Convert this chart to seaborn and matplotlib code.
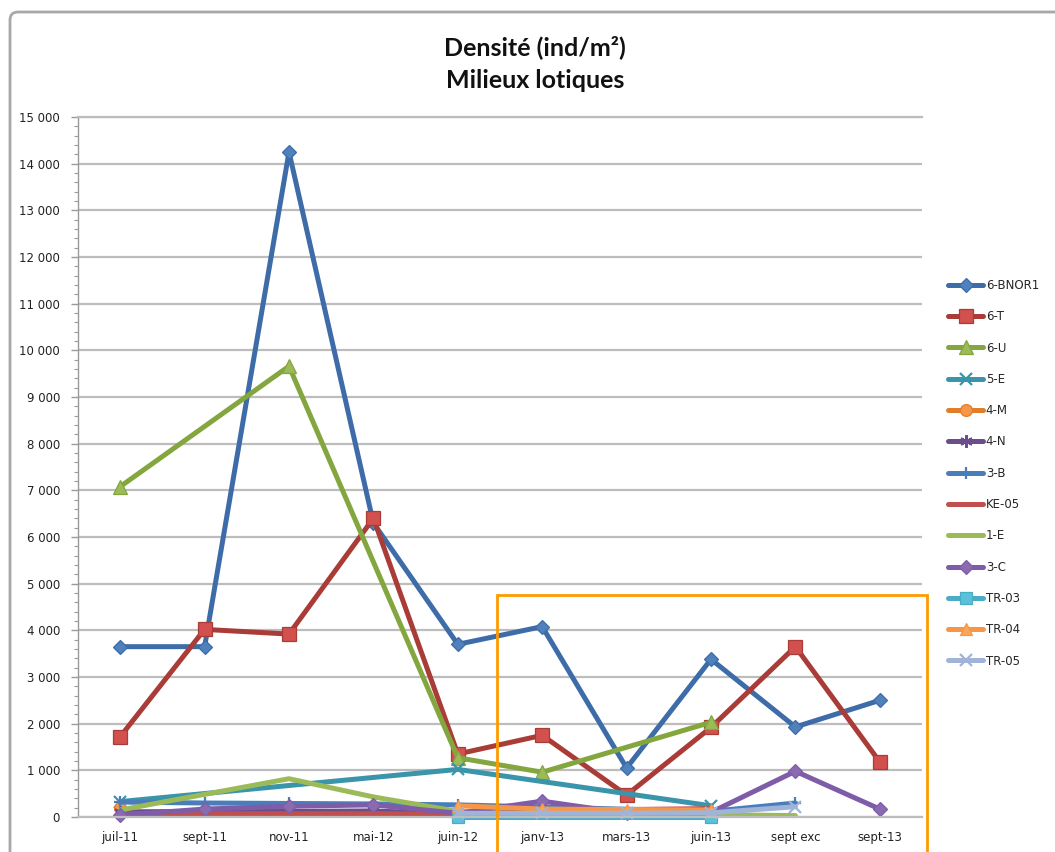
import numpy as np
import pandas as pd
import matplotlib
matplotlib.use("Agg")
import matplotlib.pyplot as plt
from matplotlib.ticker import FuncFormatter, MultipleLocator, FixedLocator
from matplotlib.patches import Rectangle, FancyBboxPatch
import seaborn as sns

nan = np.nan

# Campagnes d'échantillonnage
campagnes = ["juil-11", "sept-11", "nov-11", "mai-12", "juin-12",
             "janv-13", "mars-13", "juin-13", "sept exc", "sept-13"]

# Densités (ind/m²) par station ; NaN = station non échantillonnée
d_6_bnor1 = [3650, 3650, 14250, 6300, 3700, 4080, 1050, 3380, 1930, 2500]
d_6_t     = [1720, 4020, 3920, 6400, 1350, 1750, 470, 1920, 3650, 1180]
d_6_u     = [7080, nan, 9660, nan, 1270, 960, nan, 2030, nan, nan]
d_5_e     = [330, nan, nan, nan, 1020, nan, nan, 240, nan, nan]
d_4_m     = [200, nan, nan, nan, nan, nan, nan, nan, nan, nan]
d_4_n     = [110, 120, 120, 130, 60, nan, nan, nan, nan, nan]
d_3_b     = [320, 300, 290, 280, 260, nan, nan, 120, 300, nan]
d_ke_05   = [70, 70, 70, 70, 60, 130, 160, 180, nan, nan]
d_1_e     = [150, nan, 820, 430, 120, 50, 40, 50, 30, nan]
d_3_c     = [40, 170, 230, 260, 80, 340, 80, 100, 980, 170]
d_tr_03   = [nan, nan, nan, nan, 10, nan, nan, 10, nan, nan]
d_tr_04   = [nan, nan, nan, nan, 240, 170, 160, 150, nan, nan]
d_tr_05   = [nan, nan, nan, nan, 80, 80, 80, 90, 220, nan]

stations = ["6-BNOR1", "6-T", "6-U", "5-E", "4-M", "4-N", "3-B",
            "KE-05", "1-E", "3-C", "TR-03", "TR-04", "TR-05"]
valeurs = [d_6_bnor1, d_6_t, d_6_u, d_5_e, d_4_m, d_4_n, d_3_b,
           d_ke_05, d_1_e, d_3_c, d_tr_03, d_tr_04, d_tr_05]

# Apparence de chaque série : couleur de ligne, marqueur, remplissage, taille
styles = {
    "6-BNOR1": dict(color="#3D6CA8", marker="D", mfc="#4F81BD", ms=7.5),
    "6-T":     dict(color="#A93C37", marker="s", mfc="#D2504D", ms=10),
    "6-U":     dict(color="#84A63F", marker="^", mfc="#9BBB59", ms=10),
    "5-E":     dict(color="#3A94AA", marker="x", mfc="#3A94AA", ms=8),
    "4-M":     dict(color="#E07E2B", marker="o", mfc="#F79646", ms=8.5),
    "4-N":     dict(color="#6B4D8C", marker=(6, 2, 0), mfc="#6B4D8C", ms=9),
    "3-B":     dict(color="#4A7EBB", marker="+", mfc="#4A7EBB", ms=8),
    "KE-05":   dict(color="#C0504D", marker=None, mfc="#C0504D", ms=0),
    "1-E":     dict(color="#9BBB59", marker=None, mfc="#9BBB59", ms=0),
    "3-C":     dict(color="#7E5CA8", marker="D", mfc="#8A6BB0", ms=7.5),
    "TR-03":   dict(color="#4BACC6", marker="s", mfc="#5BC0DA", ms=9),
    "TR-04":   dict(color="#F79646", marker="^", mfc="#F9A55A", ms=9),
    "TR-05":   dict(color="#9FB4D8", marker="x", mfc="#9FB4D8", ms=8),
}

sns.set_style("white")
plt.rcParams["font.family"] = ["DejaVu Sans"]

W, H = 1055, 852
fig = plt.figure(figsize=(W / 100, H / 100), dpi=100)
fig.patch.set_facecolor("white")

ax = fig.add_axes([78 / W, 1 - 817 / H, (922 - 78) / W, (817 - 117) / H])

pos = np.arange(len(campagnes))
for nom, vals in zip(stations, valeurs):
    df = pd.DataFrame({"campagne": pos, "densite": vals}).dropna()
    st = styles[nom]
    kw = dict(color=st["color"], lw=3.6, label=nom, clip_on=False)
    if st["marker"] is not None:
        kw.update(marker=st["marker"], markersize=st["ms"],
                  markerfacecolor=st["mfc"], markeredgecolor=st["color"],
                  markeredgewidth=1.6 if st["marker"] in ("x", "+", (6, 2, 0)) else 0.9)
    sns.lineplot(data=df, x="campagne", y="densite", ax=ax, **kw)

ax.set_xlim(-0.5, len(campagnes) - 0.5)
ax.set_ylim(0, 15000)
ax.set_xlabel("")
ax.set_ylabel("")

ax.xaxis.set_major_locator(FixedLocator(pos))
ax.set_xticklabels(campagnes)
ax.yaxis.set_major_locator(MultipleLocator(1000))
ax.yaxis.set_minor_locator(MultipleLocator(200))
ax.yaxis.set_major_formatter(FuncFormatter(lambda v, p: f"{int(v):,}".replace(",", " ")))

ax.yaxis.grid(True, color="#BDBDBD", lw=1.6)
ax.xaxis.grid(False)
ax.set_axisbelow(True)
for side in ("top", "bottom"):
    ax.spines[side].set_color("#BDBDBD")
    ax.spines[side].set_linewidth(1.6)
ax.spines["right"].set_visible(False)
ax.spines["left"].set_color("#9A9A9A")
ax.spines["left"].set_linewidth(1.0)

ax.tick_params(axis="y", which="major", length=5, width=1, color="#9A9A9A",
               direction="out", pad=8, labelsize=8.5, labelcolor="#222222", left=True)
ax.tick_params(axis="y", which="minor", length=3, width=0.8, color="#9A9A9A",
               direction="out", left=True)
ax.tick_params(axis="x", length=0, pad=10, labelsize=8.5, labelcolor="#222222")

# Légende à droite du graphique
handles, labels = ax.get_legend_handles_labels()
if ax.get_legend() is not None:
    ax.get_legend().remove()
fig.legend(handles, labels, loc="upper left",
           bbox_to_anchor=(948 / W, 1 - 279 / H), frameon=False,
           fontsize=8.5, handlelength=3.0, handletextpad=0.2,
           labelspacing=1.55, borderpad=0, borderaxespad=0)

# Titre
fig.text(535 / W, 1 - 47 / H, "Densité (ind/m²)", ha="center", va="center",
         fontsize=18, fontweight="bold", family=["Lato", "DejaVu Sans"], color="#111111")
fig.text(535 / W, 1 - 81 / H, "Milieux lotiques", ha="center", va="center",
         fontsize=18, fontweight="bold", family=["Lato", "DejaVu Sans"], color="#111111")

# Cadre de la zone de graphique
fig.add_artist(FancyBboxPatch((0.10, -0.5), 12.0, 8.40 + 0.5,
                              boxstyle="round,pad=0,rounding_size=0.08",
                              transform=fig.dpi_scale_trans, fill=False,
                              ec="#A8A8A8", lw=2.0, zorder=0))

# Encadré orange sur la période 2013
fig.add_artist(Rectangle((497 / W, -0.02), (927 - 497) / W, (852 - 595) / H + 0.02,
                         transform=fig.transFigure, fill=False,
                         ec="#FF9A00", lw=2.0, zorder=10))

fig.savefig("out.png", dpi=100, facecolor="white")
